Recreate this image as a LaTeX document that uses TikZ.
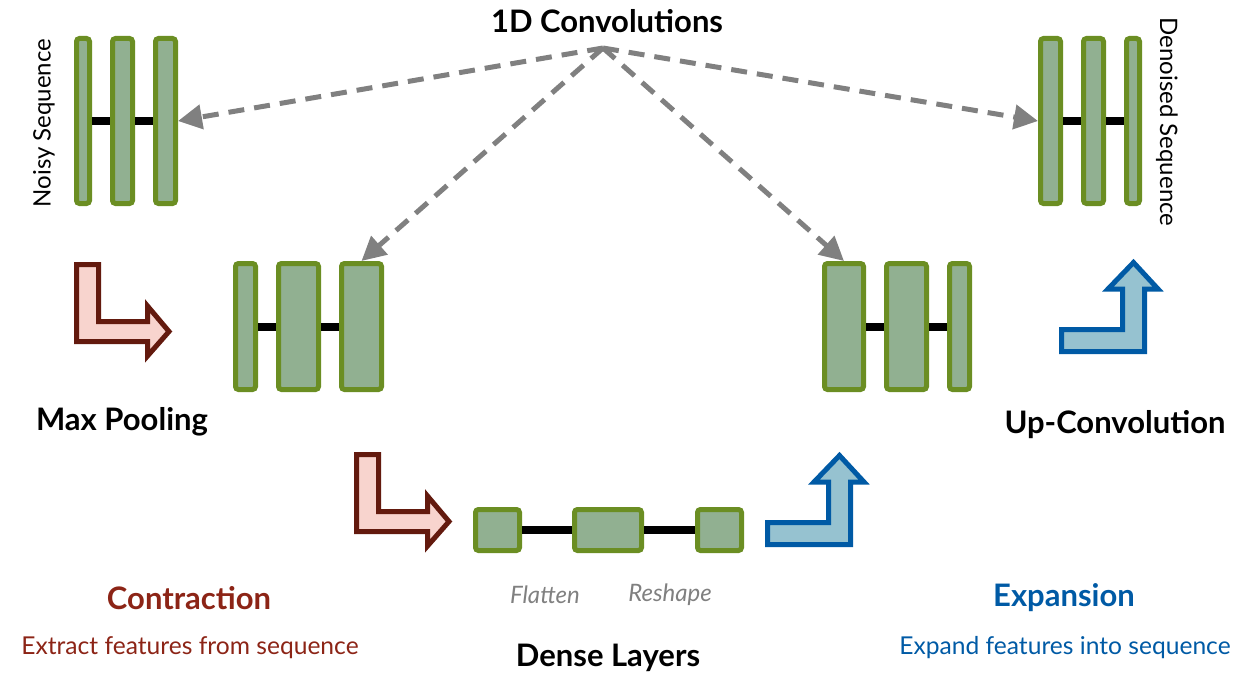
\documentclass[tikz,border=0pt]{standalone}
\usepackage{fontspec}
\setmainfont{Lato}
\usetikzlibrary{arrows.meta}

\definecolor{layergreen}{RGB}{107,142,35}
\definecolor{layerfill}{RGB}{145,176,145}
\definecolor{poolred}{RGB}{99,26,14}
\definecolor{poolfill}{RGB}{248,212,206}
\definecolor{contractred}{RGB}{140,36,22}
\definecolor{upblue}{RGB}{0,90,165}
\definecolor{upfill}{RGB}{150,194,208}
\definecolor{convgray}{RGB}{128,128,128}

\tikzset{
	layer/.style={draw=layergreen,fill=layerfill,line width=2.5pt,rounded corners=1.5pt,inner sep=0pt},
	topbar/.style={layer,minimum height=82.5pt},
	midbar/.style={layer,minimum height=63pt},
	densebar/.style={layer,minimum height=20.5pt},
	link/.style={line width=4pt,black},
	conv/.style={draw=convgray,line width=2.5pt,dash pattern=on 8pt off 5pt,-{Triangle[length=12pt,width=12pt]}},
	heading/.style={font=\fontsize{15.5}{18}\selectfont\bfseries},
	sidelabel/.style={font=\fontsize{12}{14}\selectfont},
	note/.style={font=\fontsize{12.3}{14}\selectfont},
	% L shaped arrows, drawn in pixel units from their top left corner
	pool/.pic={\draw[line width=2.5pt,draw=poolred,fill=poolfill,miter limit=4]
		(2.5,2.5) -- (24.5,2.5) -- (24.5,59.5) -- (73.5,59.5) -- (73.5,44) -- (95,69.5)
		-- (73.5,94) -- (73.5,79.5) -- (2.5,79.5) -- cycle;},
	upconv/.pic={\draw[line width=2.5pt,draw=upblue,fill=upfill,miter limit=4]
		(2.5,70.5) -- (63.5,70.5) -- (63.5,30) -- (49,30) -- (74.5,3.5) -- (99,30)
		-- (85.5,30) -- (85.5,92.5) -- (2.5,92.5) -- cycle;},
}

\begin{document}
\begin{tikzpicture}[x=0.5pt,y=-0.5pt]
	\useasboundingbox (0,0) rectangle (1253,674);

	% input and output sequences
	\foreach \x/\w [count=\i] in {83/6.5pt,122.5/10pt,165.5/10pt}
		\node[topbar,minimum width=\w] (in\i) at (\x,121) {};
	\foreach \x/\w [count=\i] in {1050.5/10pt,1093.5/10pt,1133/6.5pt}
		\node[topbar,minimum width=\w] (out\i) at (\x,121) {};
	% second level
	\foreach \x/\w [count=\i] in {245.5/10pt,298.5/20pt,361.5/20pt}
		\node[midbar,minimum width=\w] (down\i) at (\x,326.5) {};
	\foreach \x/\w [count=\i] in {844/19.5pt,906.5/20pt,959.5/10pt}
		\node[midbar,minimum width=\w] (up\i) at (\x,326.5) {};
	% dense layers at the bottom
	\foreach \x/\w [count=\i] in {497.5/22pt,608/33.5pt,719.5/22pt}
		\node[densebar,minimum width=\w] (dense\i) at (\x,530) {};

	\foreach \n in {in,out,down,up,dense}
		\draw[link] (\n1) -- (\n2) (\n2) -- (\n3);

	% labels
	\node[sidelabel,rotate=90] (noisy) at (44,123) {Noisy Sequence};
	\node[sidelabel,rotate=-90] (denoised) at (1167,122) {Denoised Sequence};
	\node[heading] (convs) at (607,21) {1D Convolutions};
	\node[heading] (maxpool) at (122,422) {Max Pooling};
	\node[heading] (upconvlabel) at (1115,425) {Up-Convolution};
	\node[heading] (denselabel) at (608,658) {Dense Layers};
	\node[font=\fontsize{12}{14}\selectfont\itshape,text=convgray] (flatten) at (545,595) {Flatten};
	\node[font=\fontsize{12}{14}\selectfont\itshape,text=convgray] (reshape) at (670,595) {Reshape};
	\node[heading,text=contractred] (contract) at (189,598) {Contraction};
	\node[note,text=contractred] (contractnote) at (190,648) {Extract features from sequence};
	\node[heading,text=upblue] (expand) at (1064,598) {Expansion};
	\node[note,text=upblue] (expandnote) at (1065,648) {Expand features into sequence};

	% convolution arrows
	\coordinate (src) at (603,48);
	\draw[conv] (src) -- (in3.east);
	\draw[conv] (src) -- (down3.north);
	\draw[conv] (src) -- (up1.north);
	\draw[conv] (src) -- (out1.west);

	% pooling and up-convolution arrows
	\pic at (74,262) {pool};
	\pic at (354,452) {pool};
	\pic at (1059,259) {upconv};
	\pic at (765,452) {upconv};
\end{tikzpicture}
\end{document}
